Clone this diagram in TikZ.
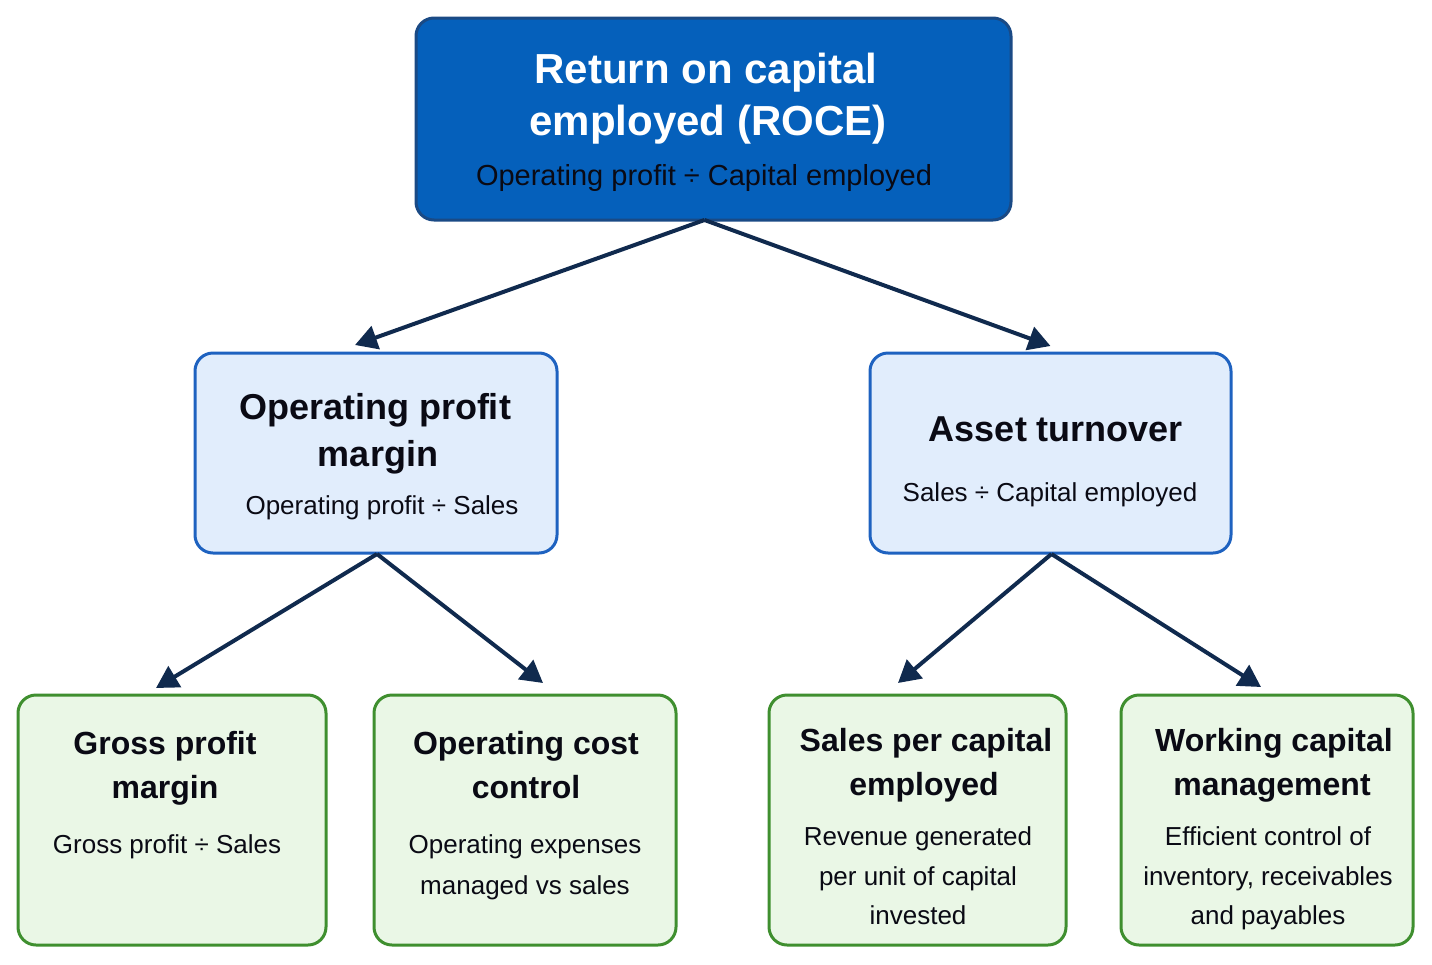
\documentclass[tikz,border=0pt]{standalone}
\usepackage{fontspec}
\setmainfont{Liberation Sans}
\usetikzlibrary{arrows.meta}
\definecolor{rocefill}{HTML}{0560BB}
\definecolor{roceline}{HTML}{1A4A85}
\definecolor{bluefill}{HTML}{E1EDFC}
\definecolor{blueline}{HTML}{1E62C0}
\definecolor{greenfill}{HTML}{EAF7E6}
\definecolor{greenline}{HTML}{3F8F2F}
\definecolor{arrowcol}{HTML}{102A4E}
\definecolor{txt}{HTML}{0A0A14}
\tikzset{
  box/.style={rounded corners=18pt, line width=3pt, inner sep=0pt, outer sep=0pt},
  roceb/.style={box, draw=roceline, fill=rocefill},
  blueb/.style={box, draw=blueline, fill=bluefill},
  greenb/.style={box, draw=greenline, fill=greenfill},
  conn/.style={draw=arrowcol, line width=4pt, -{Triangle[length=22pt,width=24pt]}},
  lbl/.style={anchor=base, inner sep=0pt, text=txt},
  bigt/.style={lbl, text=white, font=\fontsize{42}{52}\selectfont\bfseries},
  bigf/.style={lbl, font=\fontsize{29}{35}\selectfont},
  midt/.style={lbl, font=\fontsize{36}{44}\selectfont\bfseries},
  midf/.style={lbl, font=\fontsize{26}{32}\selectfont},
  lowt/.style={lbl, font=\fontsize{32}{40}\selectfont\bfseries},
  lowf/.style={lbl, font=\fontsize{26}{32}\selectfont}
}
\begin{document}
\begin{tikzpicture}[x=1pt,y=-1pt]
\useasboundingbox (0,0) rectangle (1432,964);
% boxes
\node[roceb, minimum width=595pt, minimum height=202pt] (roce) at (713.5,119) {};
\node[blueb, minimum width=362pt, minimum height=200pt] (opm) at (376,453) {};
\node[blueb, minimum width=361pt, minimum height=200pt] (at) at (1050.5,453) {};
\node[greenb, minimum width=308pt, minimum height=250pt] (gpm) at (172,820) {};
\node[greenb, minimum width=302pt, minimum height=250pt] (occ) at (525,820) {};
\node[greenb, minimum width=297pt, minimum height=250pt] (spc) at (917.5,820) {};
\node[greenb, minimum width=292pt, minimum height=250pt] (wcm) at (1267,820) {};
% texts
\node[bigt] (roce1) at (706,83) {Return on capital};
\node[bigt] (roce2) at (708,135) {employed (ROCE)};
\node[bigf] (roce3) at (704,185) {Operating profit ÷ Capital employed};
\node[midt] (opm1) at (375,419) {Operating profit};
\node[midt] (opm2) at (378,466) {margin};
\node[midf] (opm3) at (382,514) {Operating profit ÷ Sales};
\node[midt] (at1) at (1056,441) {Asset turnover};
\node[midf] (at2) at (1050,501) {Sales ÷ Capital employed};
\node[lowt] (gpm1) at (165,754) {Gross profit};
\node[lowt] (gpm2) at (165,798) {margin};
\node[lowf] (gpm3) at (167,853) {Gross profit ÷ Sales};
\node[lowt] (occ1) at (526,754) {Operating cost};
\node[lowt] (occ2) at (526,798) {control};
\node[lowf] (occ3) at (525,853) {Operating expenses};
\node[lowf] (occ4) at (525,894) {managed vs sales};
\node[lowt] (spc1) at (926,751) {Sales per capital};
\node[lowt] (spc2) at (924,795) {employed};
\node[lowf] (spc3) at (918,845) {Revenue generated};
\node[lowf] (spc4) at (918,885) {per unit of capital};
\node[lowf] (spc5) at (918,924) {invested};
\node[lowt] (wcm1) at (1274,751) {Working capital};
\node[lowt] (wcm2) at (1272,795) {management};
\node[lowf] (wcm3) at (1268,845) {Efficient control of};
\node[lowf] (wcm4) at (1268,885) {inventory, receivables};
\node[lowf] (wcm5) at (1268,924) {and payables};
% connectors
\draw[conn] ([xshift=-9pt]roce.south) -- ([xshift=-21pt,yshift=8pt]opm.north);
\draw[conn] ([xshift=-9pt]roce.south) -- ([xshift=0pt,yshift=7pt]at.north);
\draw[conn] ([xshift=1pt,yshift=-1pt]opm.south) -- ([xshift=-16pt,yshift=7pt]gpm.north);
\draw[conn] ([xshift=1pt,yshift=-1pt]opm.south) -- ([xshift=18pt,yshift=12pt]occ.north);
\draw[conn] ([xshift=1pt,yshift=-1pt]at.south) -- ([xshift=-19.5pt,yshift=12pt]spc.north);
\draw[conn] ([xshift=1pt,yshift=-1pt]at.south) -- ([xshift=-6pt,yshift=8pt]wcm.north);
\end{tikzpicture}
\end{document}
